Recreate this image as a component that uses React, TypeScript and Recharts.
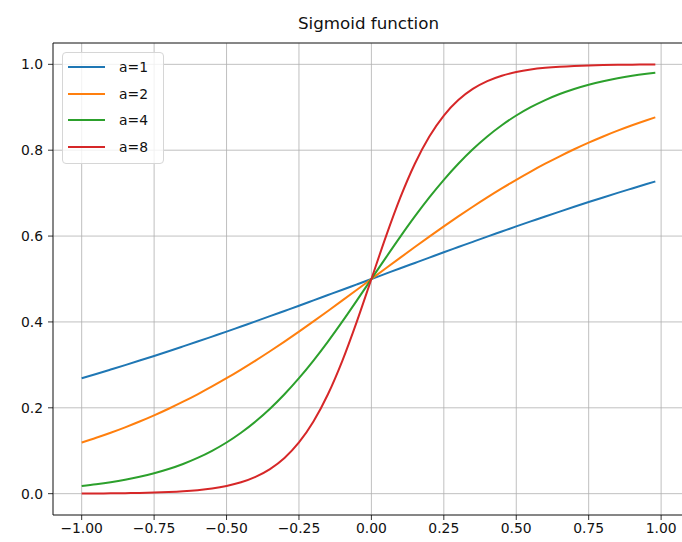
import { CartesianGrid, Line, LineChart, ReferenceLine, XAxis, YAxis } from 'recharts';

// values
const xs = [
  -1.0, -0.95, -0.9, -0.85, -0.8, -0.75, -0.7, -0.65, -0.6, -0.55, -0.5, -0.45, -0.4, -0.35, -0.3,
  -0.25, -0.2, -0.15, -0.1, -0.05, 0, 0.05, 0.1, 0.15, 0.2, 0.25, 0.3, 0.35, 0.4, 0.45, 0.5, 0.55,
  0.6, 0.65, 0.7, 0.75, 0.8, 0.85, 0.9, 0.95, 0.98,
];
const a1 = [
  0.2689, 0.2789, 0.2891, 0.2994, 0.31, 0.3208, 0.3318, 0.343, 0.3543, 0.3659, 0.3775, 0.3894,
  0.4013, 0.4134, 0.4256, 0.4378, 0.4502, 0.4626, 0.475, 0.4875, 0.5, 0.5125, 0.525, 0.5374, 0.5498,
  0.5622, 0.5744, 0.5866, 0.5987, 0.6106, 0.6225, 0.6341, 0.6457, 0.657, 0.6682, 0.6792, 0.69,
  0.7006, 0.7109, 0.7211, 0.7271,
];
const a2 = [
  0.1192, 0.1301, 0.1419, 0.1545, 0.168, 0.1824, 0.1978, 0.2142, 0.2315, 0.2497, 0.2689, 0.2891,
  0.31, 0.3318, 0.3543, 0.3775, 0.4013, 0.4256, 0.4502, 0.475, 0.5, 0.525, 0.5498, 0.5744, 0.5987,
  0.6225, 0.6457, 0.6682, 0.69, 0.7109, 0.7311, 0.7503, 0.7685, 0.7858, 0.8022, 0.8176, 0.832,
  0.8455, 0.8581, 0.8699, 0.8765,
];
const a4 = [
  0.018, 0.0219, 0.0266, 0.0323, 0.0392, 0.0474, 0.0573, 0.0691, 0.0832, 0.0998, 0.1192, 0.1419,
  0.168, 0.1978, 0.2315, 0.2689, 0.31, 0.3543, 0.4013, 0.4502, 0.5, 0.5498, 0.5987, 0.6457, 0.69,
  0.7311, 0.7685, 0.8022, 0.832, 0.8581, 0.8808, 0.9002, 0.9168, 0.9309, 0.9427, 0.9526, 0.9608,
  0.9677, 0.9734, 0.9781, 0.9806,
];
const a8 = [
  0.0003, 0.0005, 0.0007, 0.0011, 0.0017, 0.0025, 0.0037, 0.0055, 0.0082, 0.0121, 0.018, 0.0266,
  0.0392, 0.0573, 0.0832, 0.1192, 0.168, 0.2315, 0.31, 0.4013, 0.5, 0.5987, 0.69, 0.7685, 0.832,
  0.8808, 0.9168, 0.9427, 0.9608, 0.9734, 0.982, 0.9879, 0.9918, 0.9945, 0.9963, 0.9975, 0.9983,
  0.9989, 0.9993, 0.9995, 0.9996,
];

const seriesKeys = ['a1', 'a2', 'a4', 'a8'];
const seriesNames = ['a=1', 'a=2', 'a=4', 'a=8'];
const colors = ['#1f77b4', '#ff7f0e', '#2ca02c', '#d62728'];
const xTicks = [-1, -0.75, -0.5, -0.25, 0, 0.25, 0.5, 0.75, 1];
const yTicks = [0, 0.2, 0.4, 0.6, 0.8, 1.0];

const X_MIN = -1.099;
const X_MAX = 1.079;
const Y_MIN = -0.0497;
const Y_MAX = 1.0497;

const data = xs.map((x, i) => ({ x, a1: a1[i], a2: a2[i], a4: a4[i], a8: a8[i] }));

const font = '"DejaVu Sans", sans-serif';
const tickStyle = { fontSize: 13.9, fill: '#111', fontFamily: font };

export default function App() {
  return (
    <div
      style={{
        position: 'absolute',
        left: 0,
        top: 0,
        width: 682,
        height: 542,
        overflow: 'hidden',
        background: '#fff',
        fontFamily: font,
      }}
    >
      <div
        style={{
          position: 'absolute',
          left: 53,
          width: 631,
          top: 15,
          textAlign: 'center',
          fontSize: 16.7,
          lineHeight: 1,
          color: '#111',
        }}
      >
        Sigmoid function
      </div>
      <LineChart width={700} height={542} data={data} margin={{ top: 43, right: 16, bottom: 0, left: 0 }}>
        <CartesianGrid stroke="#b0b0b0" strokeWidth={0.8} />
        <XAxis
          dataKey="x"
          type="number"
          domain={[X_MIN, X_MAX]}
          allowDataOverflow
          ticks={xTicks}
          tickFormatter={fmtX}
          tick={tickStyle}
          tickSize={5}
          tickMargin={3}
          height={27}
          stroke="#000"
          strokeWidth={0.8}
        />
        <YAxis
          type="number"
          domain={[Y_MIN, Y_MAX]}
          allowDataOverflow
          ticks={yTicks}
          tickFormatter={(v: number) => v.toFixed(1)}
          tick={tickStyle}
          tickSize={5}
          tickMargin={5}
          width={53}
          stroke="#000"
          strokeWidth={0.8}
        />
        <ReferenceLine y={Y_MAX} stroke="#000" strokeWidth={0.8} />
        <ReferenceLine x={X_MAX} stroke="#000" strokeWidth={0.8} />
        {seriesKeys.map((k, i) => (
          <Line
            key={k}
            type="monotone"
            dataKey={k}
            name={seriesNames[i]}
            stroke={colors[i]}
            strokeWidth={2}
            dot={false}
            isAnimationActive={false}
          />
        ))}
      </LineChart>
      <div
        style={{
          position: 'absolute',
          left: 62,
          top: 52,
          width: 100,
          height: 110,
          border: '1px solid #d6d6d6',
          borderRadius: 4,
          background: 'rgba(255,255,255,0.8)',
        }}
      >
        {seriesNames.map((n, i) => (
          <div
            key={n}
            style={{
              position: 'absolute',
              left: 0,
              top: 0.5 + i * 26.8,
              height: 26.8,
              display: 'flex',
              alignItems: 'center',
            }}
          >
            <div style={{ marginLeft: 5, width: 37, height: 2, background: colors[i] }} />
            <span style={{ marginLeft: 14, fontSize: 13.9, color: '#111' }}>{n}</span>
          </div>
        ))}
      </div>
    </div>
  );
}

function fmtX(v: number) {
  return v.toFixed(2).replace('-', '\u2212');
}
